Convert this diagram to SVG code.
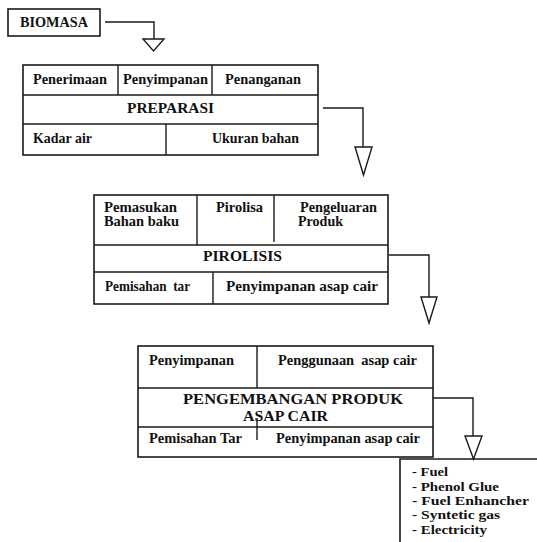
<svg xmlns="http://www.w3.org/2000/svg" width="537" height="542" viewBox="0 0 537 542">
<style>
.box{fill:none;stroke:#1a1a1a;stroke-width:1.6}
.ln{fill:none;stroke:#1a1a1a;stroke-width:1.4}
.tri{fill:#fff;stroke:#1a1a1a;stroke-width:1.4;stroke-linejoin:miter}
text{font-family:"Liberation Serif","Times New Roman",serif;font-weight:bold;fill:#111}
.lb{font-size:14px}
.hd{font-size:15.5px}
.li{font-size:13.5px}
</style>
<rect width="537" height="542" fill="#fff"/>
<g id="biomasa">
<rect class="box" x="8" y="9" width="92" height="27"/>
<text class="lb" x="20" y="27" textLength="68" lengthAdjust="spacingAndGlyphs">BIOMASA</text>
</g>
<g id="preparasi">
<rect class="box" x="23" y="65" width="295" height="90"/>
<line class="ln" x1="23" y1="95" x2="318" y2="95"/>
<line class="ln" x1="23" y1="124" x2="318" y2="124"/>
<line class="ln" x1="118" y1="65" x2="118" y2="95"/>
<line class="ln" x1="212" y1="65" x2="212" y2="95"/>
<line class="ln" x1="166" y1="124" x2="166" y2="155"/>
<text class="lb" x="33" y="84" textLength="74" lengthAdjust="spacingAndGlyphs">Penerimaan</text>
<text class="lb" x="123" y="84" textLength="85" lengthAdjust="spacingAndGlyphs">Penyimpanan</text>
<text class="lb" x="225" y="84" textLength="76" lengthAdjust="spacingAndGlyphs">Penanganan</text>
<text class="hd" x="127" y="113" textLength="87" lengthAdjust="spacingAndGlyphs">PREPARASI</text>
<text class="lb" x="33" y="143" textLength="59" lengthAdjust="spacingAndGlyphs">Kadar air</text>
<text class="lb" x="212" y="143" textLength="87" lengthAdjust="spacingAndGlyphs">Ukuran bahan</text>
</g>
<g id="pirolisis">
<rect class="box" x="94" y="195" width="294" height="109"/>
<line class="ln" x1="94" y1="245" x2="388" y2="245"/>
<line class="ln" x1="94" y1="272" x2="388" y2="272"/>
<line class="ln" x1="197" y1="195" x2="197" y2="245"/>
<line class="ln" x1="274" y1="195" x2="274" y2="242"/>
<line class="ln" x1="213" y1="272" x2="213" y2="304"/>
<text class="lb" x="104" y="212" textLength="73" lengthAdjust="spacingAndGlyphs">Pemasukan</text>
<text class="lb" x="104" y="226" textLength="75" lengthAdjust="spacingAndGlyphs">Bahan baku</text>
<text class="lb" x="216" y="212" textLength="47" lengthAdjust="spacingAndGlyphs">Pirolisa</text>
<text class="lb" x="300" y="212" textLength="77" lengthAdjust="spacingAndGlyphs">Pengeluaran</text>
<text class="lb" x="298" y="226" textLength="45" lengthAdjust="spacingAndGlyphs">Produk</text>
<text class="hd" x="203" y="261" textLength="79" lengthAdjust="spacingAndGlyphs">PIROLISIS</text>
<text class="lb" x="105" y="291" textLength="85" lengthAdjust="spacingAndGlyphs" xml:space="preserve">Pemisahan  tar</text>
<text class="lb" x="226" y="291" textLength="152" lengthAdjust="spacingAndGlyphs">Penyimpanan asap cair</text>
</g>
<g id="pengembangan">
<rect class="box" x="138" y="346" width="295" height="111"/>
<line class="ln" x1="138" y1="388" x2="433" y2="388"/>
<line class="ln" x1="138" y1="427" x2="433" y2="427"/>
<line class="ln" x1="257" y1="346" x2="257" y2="388"/>
<line class="ln" x1="257" y1="418" x2="257" y2="440"/>
<text class="lb" x="149" y="365" textLength="85" lengthAdjust="spacingAndGlyphs">Penyimpanan</text>
<text class="lb" x="278" y="365" textLength="139" lengthAdjust="spacingAndGlyphs" xml:space="preserve">Penggunaan  asap cair</text>
<text class="hd" x="183" y="404" textLength="220" lengthAdjust="spacingAndGlyphs">PENGEMBANGAN PRODUK</text>
<text class="hd" x="243" y="421" textLength="85" lengthAdjust="spacingAndGlyphs">ASAP CAIR</text>
<text class="lb" x="149" y="443" textLength="93" lengthAdjust="spacingAndGlyphs">Pemisahan Tar</text>
<text class="lb" x="276" y="443" textLength="144" lengthAdjust="spacingAndGlyphs">Penyimpanan asap cair</text>
</g>
<g id="produk">
<polyline class="box" points="400,542 400,459 537,459"/>
<text class="li" x="412" y="476" textLength="36" lengthAdjust="spacingAndGlyphs">- Fuel</text>
<text class="li" x="412" y="490.5" textLength="87" lengthAdjust="spacingAndGlyphs">- Phenol Glue</text>
<text class="li" x="412" y="505" textLength="117" lengthAdjust="spacingAndGlyphs">- Fuel Enhancher</text>
<text class="li" x="412" y="519" textLength="88" lengthAdjust="spacingAndGlyphs">- Syntetic gas</text>
<text class="li" x="412" y="533.5" textLength="75" lengthAdjust="spacingAndGlyphs">- Electricity</text>
</g>
<g id="connectors">
<polyline class="ln" points="105,22 154,22 154,39"/>
<polygon class="tri" points="143,39 164,39 153.5,51"/>
<polyline class="ln" points="323,108 363,108 363,147"/>
<polygon class="tri" points="355,147 372,147 363.5,175"/>
<polyline class="ln" points="389,255 429,255 429,297"/>
<polygon class="tri" points="421,297 437,297 429,323"/>
<polyline class="ln" points="433,398 473,398 473,436"/>
<polygon class="tri" points="465,436 482,436 473.5,459"/>
</g>
</svg>
